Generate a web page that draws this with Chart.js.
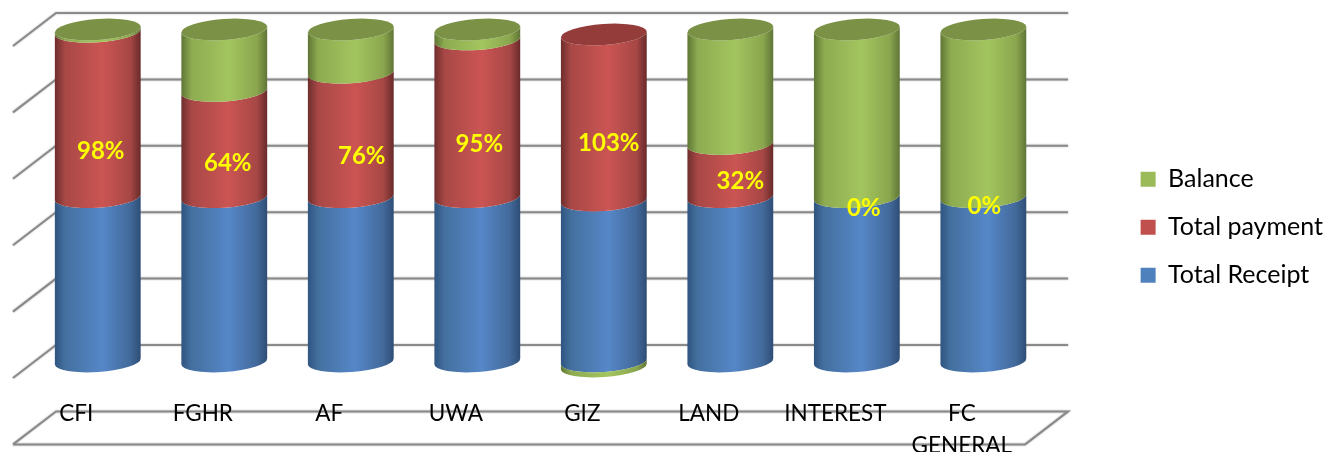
<!DOCTYPE html>
<html>
<head>
<meta charset="utf-8">
<title>Receipts and payments</title>
<script src="https://cdn.jsdelivr.net/npm/chart.js@4"></script>
<style>
    html, body { margin: 0; padding: 0; background: #fff; }
    canvas { display: block; }
</style>
</head>
<body>
<canvas id="myChart" width="1330" height="452"></canvas>
<script>
// values, share of each stack in %
const categories = ['CFI', 'FGHR', 'AF', 'UWA', 'GIZ', 'LAND', 'INTEREST', ['FC', 'GENERAL']];
const totalReceipt = [49.5, 49.5, 49.5, 49.5, 48.5, 49.5, 49.5, 49.5];
const totalPayment = [49.8, 32, 37.5, 47.5, 50, 16, 0, 0];
const balance = [0.7, 18.5, 13, 3, -1.5, 34.5, 50.5, 50.5];
const paidLabels = ['98%', '64%', '76%', '95%', '103%', '32%', '0%', '0%'];
const wallTicks = [-20, 0, 20, 40, 60, 80, 100];

const FONT = 'Lato';

// side shading of each cylinder, dark edges and a light band in the middle
const shading = {
    'Total Receipt': ['#2f5480', '#44709f', '#5687c8', '#42699a', '#2e4d75'],
    'Total payment': ['#6d2e2c', '#a84846', '#cb5553', '#a64745', '#672a29'],
    'Balance': ['#5f7535', '#8dab50', '#a3c55f', '#8aa64e', '#5f7535'],
};
const shadeStops = [0, 0.12, 0.55, 0.88, 1];
const topColors = { 'Total Receipt': '#3f6594', 'Total payment': '#933c3a', 'Balance': '#7a9146' };

// the labels were moved by hand in the original, offset from the middle of the red part
const labelNudge = [[3, 37], [3.5, 19], [11, 21], [2, 26], [5, 25.5], [10, 11], [7, 11], [1, 9]];

const cylinders = {
    id: 'cylinders',

    // floor and back wall, drawn behind the category labels
    beforeDraw(chart, args, opts) {
        const ctx = chart.ctx;
        const area = chart.chartArea;
        const y = chart.scales.y;
        const dx = opts.depthX;
        const dy = opts.depthY;
        ctx.save();
        ctx.strokeStyle = '#8a8a8a';
        ctx.lineWidth = 2;
        ctx.shadowColor = 'rgba(0, 0, 0, 0.3)';
        ctx.shadowBlur = 2;
        wallTicks.forEach((value, t) => {
            const py = y.getPixelForValue(value);
            ctx.beginPath();
            ctx.moveTo(area.left - dx, py + dy);
            ctx.lineTo(area.left + dx, py - dy);
            ctx.lineTo(area.right + dx, py - dy);
            if (t === 0) {
                ctx.lineTo(area.right - dx, py + dy);
                ctx.lineTo(area.left - dx, py + dy);
            }
            ctx.stroke();
        });
        ctx.restore();
    },

    // bars are replaced by cylinders, the bar elements only give the geometry
    beforeDatasetsDraw(chart, args, opts) {
        const ctx = chart.ctx;
        const tilt = opts.tilt;
        const ry = opts.radiusY;

        chart.data.datasets.forEach((ds, d) => {
            chart.getDatasetMeta(d).data.forEach((bar, i) => {
                if (!ds.data[i]) return;
                const rx = bar.width / 2;
                const upper = Math.min(bar.y, bar.base);
                const lower = Math.max(bar.y, bar.base);
                const grad = ctx.createLinearGradient(bar.x - rx, 0, bar.x + rx, 0);
                shading[ds.label].forEach((c, s) => grad.addColorStop(shadeStops[s], c));
                ctx.beginPath();
                ctx.ellipse(bar.x, lower, rx, ry, tilt, 0, Math.PI, false);
                ctx.ellipse(bar.x, upper, rx, ry, tilt, Math.PI, 0, true);
                ctx.closePath();
                ctx.fillStyle = grad;
                ctx.fill();
            });
        });

        // lid in the colour of the highest positive part
        categories.forEach((cat, i) => {
            let top = null;
            chart.data.datasets.forEach((ds, d) => {
                if (ds.data[i] > 0) top = { label: ds.label, bar: chart.getDatasetMeta(d).data[i] };
            });
            ctx.beginPath();
            ctx.ellipse(top.bar.x, top.bar.y, top.bar.width / 2, ry, tilt, 0, Math.PI * 2);
            ctx.fillStyle = topColors[top.label];
            ctx.fill();
        });

        // percentage labels
        const payMeta = chart.getDatasetMeta(1);
        ctx.save();
        ctx.font = 'bold ' + opts.labelSize + 'px ' + FONT;
        ctx.fillStyle = '#ffff00';
        ctx.textAlign = 'center';
        ctx.textBaseline = 'middle';
        paidLabels.forEach((text, i) => {
            const bar = payMeta.data[i];
            ctx.fillText(text, bar.x + labelNudge[i][0], (bar.y + bar.base) / 2 + labelNudge[i][1]);
        });
        ctx.restore();
        return false;
    },
};

new Chart(document.getElementById('myChart'), {
    type: 'bar',
    plugins: [cylinders],
    data: {
        labels: categories,
        datasets: [
            { label: 'Total Receipt', data: totalReceipt, backgroundColor: '#4f81bd' },
            { label: 'Total payment', data: totalPayment, backgroundColor: '#c0504d' },
            { label: 'Balance', data: balance, backgroundColor: '#9bbb59' },
        ],
    },
    options: {
        responsive: false,
        animation: false,
        barPercentage: 0.68,
        categoryPercentage: 1,
        layout: { padding: { left: 34.5, top: 2.5, right: -3, bottom: 0 } },
        scales: {
            x: {
                stacked: true,
                grid: { display: false },
                border: { display: false },
                afterFit: (axis) => { axis.height = 57.3; },
                ticks: {
                    autoSkip: false,
                    maxRotation: 0,
                    labelOffset: -21.5,
                    padding: -5,
                    color: '#000',
                    font: { family: FONT, size: 22.5, lineHeight: 1.42 },
                },
            },
            y: {
                stacked: true,
                position: 'right',
                // wider than the walls so the tick labels of x sit on the floor
                min: -10,
                max: 108.13,
                grid: { display: false },
                border: { display: false },
                afterFit: (axis) => { axis.width = 71; },
                ticks: { display: false },
            },
        },
        plugins: {
            tooltip: { enabled: false },
            cylinders: { depthX: 21.5, depthY: 16.5, tilt: -0.07, radiusY: 10.5, labelSize: 24 },
            legend: {
                position: 'right',
                reverse: true,
                labels: {
                    boxWidth: 15,
                    boxHeight: 15,
                    padding: 23,
                    color: '#000',
                    font: { family: FONT, size: 25 },
                },
            },
        },
    },
});
</script>
</body>
</html>
